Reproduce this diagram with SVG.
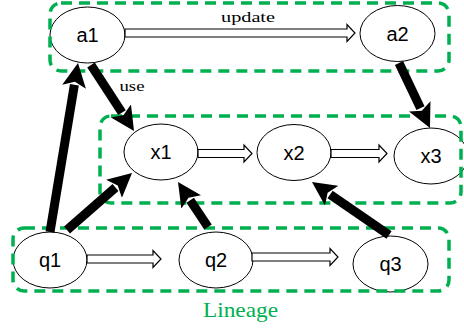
<svg xmlns="http://www.w3.org/2000/svg" width="464" height="330" viewBox="0 0 464 330">
<defs>
<marker id="head" viewBox="0 0 24 24" markerWidth="24" markerHeight="24" refX="2" refY="12" orient="auto" markerUnits="userSpaceOnUse">
<path d="M0,0 L24,12 L0,24 L5,12 z" fill="#000"/>
</marker>
<style>
.node ellipse{fill:#fff;stroke:#000;stroke-width:1}
.node text{font-family:"Liberation Sans",Arial,sans-serif;font-size:20px;text-anchor:middle;fill:#000}
.box{fill:none;stroke:#00b050;stroke-width:3.5;stroke-dasharray:11 7}
.thick{stroke:#000;stroke-width:9;fill:none;marker-end:url(#head)}
.hollow{fill:#fff;stroke:#000;stroke-width:1.2}
.lbl{font-family:"Liberation Serif","Times New Roman",serif;font-size:14px;fill:#000}
</style>
</defs>
<g id="a1" class="node"><ellipse cx="87.5" cy="35" rx="37.5" ry="28"/><text x="87.5" y="42">a1</text></g>
<g id="a2" class="node"><ellipse cx="397.5" cy="33.5" rx="37.5" ry="28"/><text x="397.5" y="40.5">a2</text></g>
<g id="x1" class="node"><ellipse cx="161" cy="152" rx="37" ry="28"/><text x="161" y="159">x1</text></g>
<g id="x2" class="node"><ellipse cx="294" cy="152.5" rx="37" ry="28"/><text x="294" y="159.5">x2</text></g>
<g id="x3" class="node"><ellipse cx="431" cy="156" rx="37" ry="28"/><text x="431" y="163">x3</text></g>
<g id="q1" class="node"><ellipse cx="50" cy="260" rx="37" ry="28"/><text x="50" y="267">q1</text></g>
<g id="q2" class="node"><ellipse cx="216" cy="260" rx="37" ry="28"/><text x="216" y="267">q2</text></g>
<g id="q3" class="node"><ellipse cx="390.5" cy="264" rx="37.5" ry="28"/><text x="390.5" y="271">q3</text></g>
<g id="groups">
<rect class="box" x="50" y="3" width="399" height="68" rx="11"/>
<rect class="box" x="100" y="116" width="361" height="87" rx="11"/>
<rect class="box" x="13" y="228" width="436" height="63" rx="11"/>
</g>
<g id="connectors">
<polygon class="hollow" points="125,29 347,29 347,24.5 355,33 347,41.5 347,37 125,37"/>
<polygon class="hollow" points="198,149.5 244,149.5 244,145 252,153.5 244,162 244,157.5 198,157.5"/>
<polygon class="hollow" points="331,149.5 379,149.5 379,145 387,153.5 379,162 379,157.5 331,157.5"/>
<polygon class="hollow" points="87,255 153,255 153,250.5 161,259 153,267.5 153,263 87,263"/>
<polygon class="hollow" points="252,253 330,253 330,248.5 338,257 330,265.5 330,261 252,261"/>
<line class="thick" x1="50" y1="232" x2="74.4" y2="84.7"/>
<line class="thick" x1="67" y1="230" x2="115.5" y2="187.5"/>
<line class="thick" x1="91" y1="65" x2="122" y2="112.6"/>
<line class="thick" x1="399" y1="63" x2="420.5" y2="108.1"/>
<line class="thick" x1="208" y1="227" x2="190.2" y2="200.3"/>
<line class="thick" x1="389" y1="235" x2="330.1" y2="194.5"/>
<text class="lbl" x="248" y="22" text-anchor="middle" textLength="54" lengthAdjust="spacingAndGlyphs">update</text>
<text class="lbl" x="132" y="91" text-anchor="middle" textLength="25" lengthAdjust="spacingAndGlyphs">use</text>
</g>
<text x="240.5" y="317" font-family="'Liberation Serif','Times New Roman',serif" font-size="21" fill="#00b050" text-anchor="middle" textLength="75" lengthAdjust="spacingAndGlyphs">Lineage</text>
</svg>
